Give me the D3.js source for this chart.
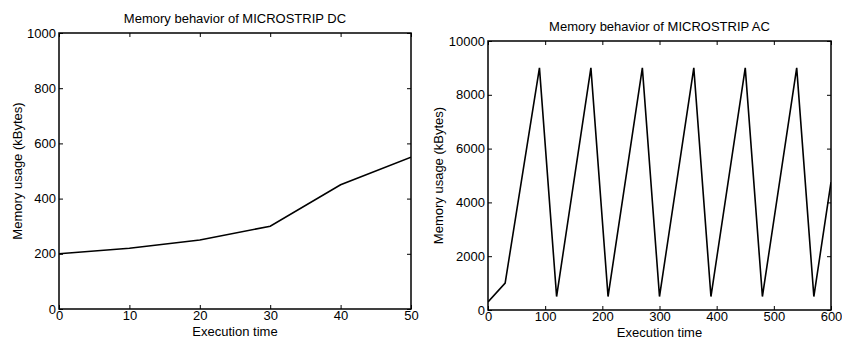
<!DOCTYPE html>
<html>
<head>
<meta charset="utf-8">
<script src="https://cdn.jsdelivr.net/npm/d3@7"></script>
<style>
body{margin:0;background:#fff;}
text{font-family:"Liberation Sans",Arial,sans-serif;fill:#000;}
</style>
</head>
<body>
<script>
// DC run
var dcTime=[0,10,20,30,40,50];
var dcMem=[200,220,250,300,450,550];
var dcTicksX=[0,10,20,30,40,50];
var dcTicksY=[0,200,400,600,800,1000];

// AC run
var acTime=[0,30,90,120,180,210,270,300,360,390,450,480,540,570,600];
var acMem=[300,1000,9000,500,9000,500,9000,500,9000,500,9000,500,9000,500,4750];
var acTicksX=[0,100,200,300,400,500,600];
var acTicksY=[0,2000,4000,6000,8000,10000];

var svg=d3.select("body").append("svg").attr("width",842).attr("height",339);

function drawPlot(box, xs, ys, tx, ty, title){
  var x=d3.scaleLinear().domain([tx[0],tx[tx.length-1]]).range([box.left,box.right]);
  var y=d3.scaleLinear().domain([ty[0],ty[ty.length-1]]).range([box.bottom,box.top]);
  var g=svg.append("g");

  // ticks pointing inward, on all four sides (matlab style)
  g.append("g").attr("transform","translate(0,"+box.bottom+")")
    .call(d3.axisBottom(x).tickValues(tx).tickSizeInner(-4).tickSizeOuter(0).tickPadding(2).tickFormat(d3.format("d")));
  g.append("g").attr("transform","translate("+box.left+",0)")
    .call(d3.axisLeft(y).tickValues(ty).tickSizeInner(-4).tickSizeOuter(0).tickPadding(3).tickFormat(d3.format("d")));
  g.append("g").attr("transform","translate(0,"+box.top+")")
    .call(d3.axisTop(x).tickValues(tx).tickSizeInner(-4).tickSizeOuter(0).tickFormat(""));
  g.append("g").attr("transform","translate("+box.right+",0)")
    .call(d3.axisRight(y).tickValues(ty).tickSizeInner(-4).tickSizeOuter(0).tickFormat(""));
  g.selectAll(".domain").remove();
  g.selectAll(".tick line").attr("stroke","#000").attr("stroke-width",1);
  g.selectAll(".tick text").attr("font-size",13).attr("font-family","Liberation Sans, Arial, sans-serif").attr("fill","#000");

  g.append("rect").attr("x",box.left).attr("y",box.top)
    .attr("width",box.right-box.left).attr("height",box.bottom-box.top)
    .attr("fill","none").attr("stroke","#000").attr("stroke-width",1.5);

  var clipId="clip"+Math.round(box.left);
  svg.append("clipPath").attr("id",clipId).append("rect")
    .attr("x",box.left).attr("y",box.top).attr("width",box.right-box.left).attr("height",box.bottom-box.top);

  var line=d3.line().x(function(d){return x(d[0]);}).y(function(d){return y(d[1]);});
  g.append("path").datum(d3.zip(xs,ys)).attr("d",line)
    .attr("clip-path","url(#"+clipId+")")
    .attr("fill","none").attr("stroke","#000").attr("stroke-width",1.6).attr("stroke-linejoin","miter");

  g.append("text").attr("x",(box.left+box.right)/2).attr("y",box.top-10)
    .attr("text-anchor","middle").attr("font-size",13).text(title);
  g.append("text").attr("x",(box.left+box.right)/2).attr("y",box.bottom+27)
    .attr("text-anchor","middle").attr("font-size",13).text("Execution time");
  g.append("text").attr("transform","translate("+box.ylab+","+(box.top+box.bottom)/2+") rotate(-90)")
    .attr("text-anchor","middle").attr("font-size",13).text("Memory usage (kBytes)");
}

drawPlot({left:59,right:411,top:33,bottom:309,ylab:22}, dcTime, dcMem, dcTicksX, dcTicksY, "Memory behavior of MICROSTRIP DC");
drawPlot({left:488,right:831,top:41,bottom:310,ylab:443}, acTime, acMem, acTicksX, acTicksY, "Memory behavior of MICROSTRIP AC");
</script>
</body>
</html>
